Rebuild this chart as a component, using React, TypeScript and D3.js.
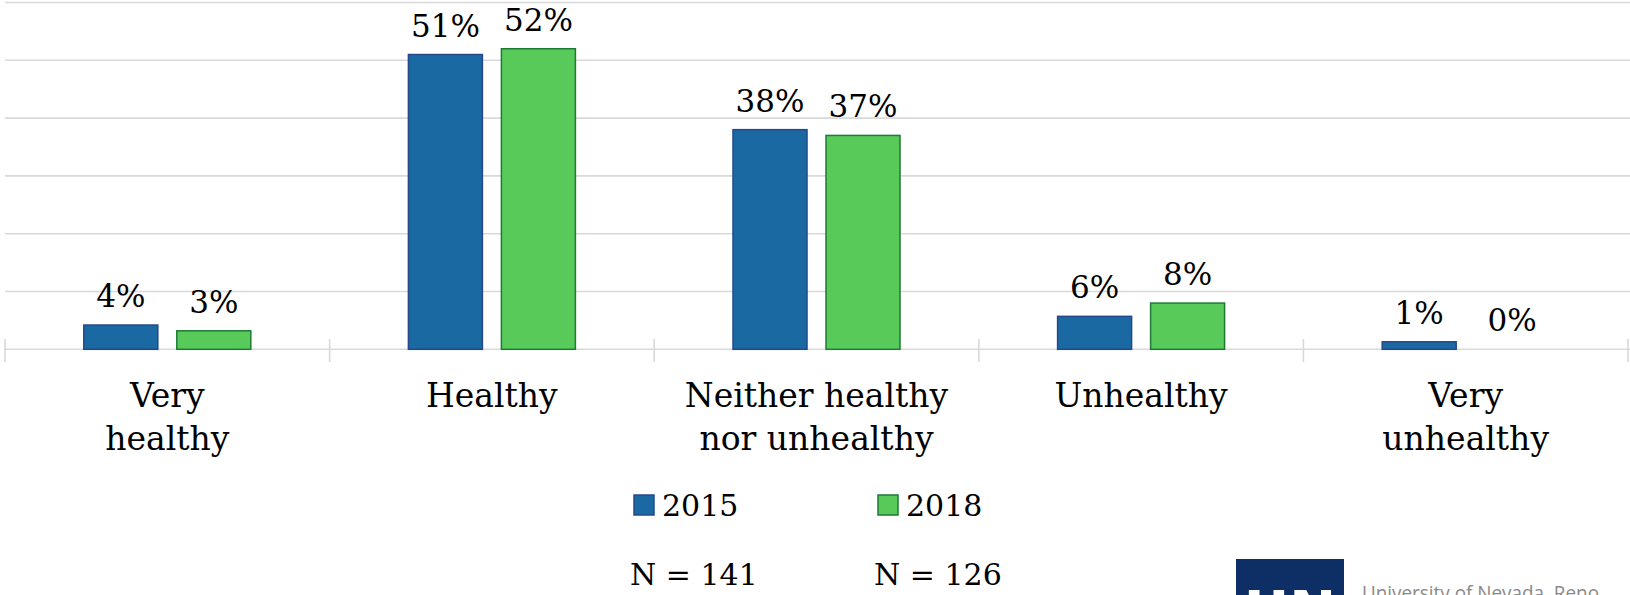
import React from "react";
import * as d3 from "d3";

const categories = ["Very healthy", "Healthy", "Neither healthy nor unhealthy", "Unhealthy", "Very unhealthy"];
const categoryLines = [["Very", "healthy"], ["Healthy"], ["Neither healthy", "nor unhealthy"], ["Unhealthy"], ["Very", "unhealthy"]];
const series2015 = [4.2, 51, 38, 5.7, 1.3];
const series2018 = [3.2, 52, 37, 8.0, 0];
const seriesNames = ["2015", "2018"];
const sampleSizes = ["N = 141", "N = 126"];
const yTicks = [0, 10, 20, 30, 40, 50, 60];

const W = 1630;
const H = 595;
const FONT = "'DejaVu Serif', Georgia, serif";
const BLUE = "#1B69A3";
const BLUE_STROKE = "#24488A";
const GREEN = "#57CA59";
const GREEN_STROKE = "#1E7A35";
const GRID = "#D9D9D9";

export default function App() {
  const x = d3.scaleBand<string>().domain(categories).range([5, 1628]).paddingInner(0).paddingOuter(0);
  const y = d3.scaleLinear().domain([0, 60]).range([349.3, 2.5]);
  const barW = 74;
  const off = 46.5;
  const series = [
    { name: seriesNames[0], values: series2015, fill: BLUE, stroke: BLUE_STROKE, dx: -off },
    { name: seriesNames[1], values: series2018, fill: GREEN, stroke: GREEN_STROKE, dx: off },
  ];
  const boundaries = [...categories.map((c) => x(c) as number), x.range()[1]];

  return (
    <svg width={W} height={H} style={{ position: "absolute", left: 0, top: 0, display: "block", background: "#fff" }}>
      {yTicks.map((t) => (
        <line key={t} x1={5} x2={1630} y1={y(t)} y2={y(t)} stroke={GRID} strokeWidth={1.6} />
      ))}
      {boundaries.map((b, i) => (
        <line key={i} x1={b} x2={b} y1={339} y2={362} stroke={GRID} strokeWidth={1.6} />
      ))}
      {series.map((s) =>
        s.values.map((v, i) => {
          const cx = (x(categories[i]) as number) + x.bandwidth() / 2 + s.dx;
          const top = y(v);
          return (
            <g key={s.name + i}>
              {v > 0 && (
                <rect x={cx - barW / 2} y={top} width={barW} height={y(0) - top} fill={s.fill} stroke={s.stroke} strokeWidth={1.5} />
              )}
              <text x={cx} y={top - 18} textAnchor="middle" fontFamily={FONT} fontSize={31} fill="#000">
                {Math.round(v)}%
              </text>
            </g>
          );
        })
      )}
      {categoryLines.map((lines, i) => {
        const cx = (x(categories[i]) as number) + x.bandwidth() / 2;
        return (
          <text key={i} textAnchor="middle" fontFamily={FONT} fontSize={33} fill="#000">
            {lines.map((l, j) => (
              <tspan key={j} x={cx} y={407 + j * 43}>
                {l}
              </tspan>
            ))}
          </text>
        );
      })}
      {series.map((s, i) => {
        const lx = 634 + i * 244;
        return (
          <g key={s.name}>
            <rect x={lx} y={495} width={20} height={20} fill={s.fill} stroke={s.stroke} strokeWidth={1.5} />
            <text x={lx + 28} y={516} fontFamily={FONT} fontSize={30} fill="#000">
              {s.name}
            </text>
            <text x={lx - 4} y={585} fontFamily={FONT} fontSize={30} fill="#000">
              {sampleSizes[i]}
            </text>
          </g>
        );
      })}
      <g>
        <rect x={1236} y={559} width={108} height={40} fill="#0D2F66" />
        <text x={1290} y={630} textAnchor="middle" fontFamily="'DejaVu Sans', sans-serif" fontWeight="bold" fontSize={56} fill="#fff">
          UN
        </text>
        <text x={1362} y={600} fontFamily="'Open Sans', sans-serif" fontSize={20} textLength={237} lengthAdjust="spacingAndGlyphs" fill="#8A8A8A">
          University of Nevada, Reno
        </text>
      </g>
    </svg>
  );
}
